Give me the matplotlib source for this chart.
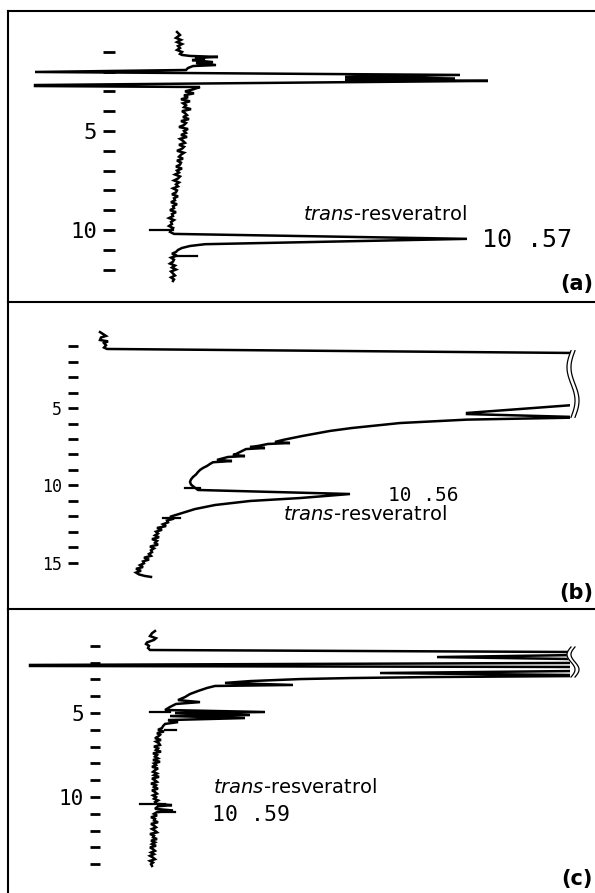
import matplotlib
matplotlib.use("Agg")

import numpy as np
import matplotlib.pyplot as plt
from matplotlib.patches import Rectangle

# detector signal (arbitrary units) vs retention time (min); pen full scale
FULL_SCALE = 570

# ---- panel (a)
TIME_A = [
    0.00, 0.15, 0.30, 0.40, 0.51, 0.61, 0.71, 0.81, 0.91, 1.01,
    1.11, 1.16, 1.21, 1.26, 1.31, 1.36, 1.42, 1.52, 1.57, 1.67,
    1.72, 1.82, 1.92, 2.02, 2.17, 2.27, 2.35, 2.42, 2.47, 2.68,
    2.73, 2.78,
    2.9, 3.0, 3.1, 3.2, 3.3, 3.4, 3.5, 3.6, 3.7, 3.8,
    3.9, 4.0, 4.1, 4.2, 4.3, 4.4, 4.5, 4.6, 4.7, 4.8,
    4.9, 5.0, 5.1, 5.2, 5.3, 5.4, 5.5, 5.6, 5.7, 5.8,
    5.9, 6.0, 6.1, 6.2, 6.3, 6.4, 6.5, 6.6, 6.7, 6.8,
    6.9, 7.0, 7.1, 7.2, 7.3, 7.4, 7.5, 7.6, 7.7, 7.8,
    7.9, 8.0, 8.1, 8.2, 8.3, 8.4, 8.5, 8.6, 8.7, 8.8,
    8.9, 9.0, 9.1, 9.2, 9.3, 9.4, 9.5, 9.6, 9.7, 9.8,
    9.9, 10.0, 10.1, 10.2,
    10.45, 10.72, 10.81, 10.91, 11.01, 11.11,
    11.2, 11.3, 11.4, 11.5, 11.6, 11.7, 11.8, 11.9, 12.0, 12.1,
    12.2, 12.3, 12.4, 12.5, 12.58,
]
SIGNAL_A = [
    177, 180, 176, 181, 177, 182, 178, 180, 177, 182,
    180, 182, 190, 218, 195, 205, 192, 213, 196, 216,
    193, 188, 186, 35, 460, 345, 455, 345, 488, 35,
    35, 200,
    193, 185, 194, 184, 188, 181, 190, 183, 186, 184,
    191, 182, 185, 187, 183, 189, 181, 186, 184, 179,
    188, 184, 186, 181, 187, 180, 183, 185, 179, 184,
    182, 177, 184, 181, 179, 183, 177, 181, 180, 176,
    182, 177, 179, 175, 180, 178, 174, 179, 176, 178,
    173, 177, 176, 172, 178, 174, 175, 171, 177, 173,
    174, 170, 176, 172, 173, 169, 174, 171, 172, 169,
    173, 171, 170, 174,
    467, 205, 190, 182, 178, 176,
    172, 177, 171, 174, 173, 170, 175, 172, 176, 171,
    173, 175, 171, 174, 173,
]
MARK_T_A = [10.0, 11.31]
MARK_LO_A = [150, 177]
MARK_HI_A = [173, 197]

# ---- panel (b)
TIME_B = [
    0.10, 0.35, 0.45, 0.61, 0.70, 0.81, 0.95, 1.10, 1.19, 1.45,
    4.80, 5.32, 5.39, 5.58, 5.62, 5.75, 5.97, 6.29, 6.48, 6.81,
    7.06, 7.19, 7.26, 7.32, 7.45, 7.52, 7.58, 7.65, 7.84, 7.97,
    8.03, 8.10, 8.16, 8.35, 8.42, 8.50, 8.61, 8.74, 8.87, 9.00,
    9.13, 9.29, 9.45, 9.61, 9.77, 9.94, 10.10, 10.29, 10.55, 10.81,
    11.00, 11.26, 11.52, 11.70, 11.78,
    11.90, 12.02, 12.14, 12.26, 12.38, 12.50, 12.62, 12.74, 12.86, 12.98,
    13.10, 13.22, 13.34, 13.46, 13.58, 13.70, 13.82, 13.94, 14.06, 14.18,
    14.30, 14.42, 14.54, 14.66, 14.78, 14.90, 15.02, 15.14, 15.26, 15.38,
    15.50, 15.62, 15.74, 15.84, 15.90,
]
SIGNAL_B = [
    100, 106, 101, 100, 108, 104, 106, 104, 107, 575,
    575, 467, 467, 575, 575, 467, 400, 352, 330, 302,
    283, 275, 290, 268, 258, 250, 265, 246, 240, 236,
    233, 245, 228, 217, 232, 213, 210, 207, 203, 200,
    198, 196, 193, 191, 190, 191, 194, 198, 350, 300,
    250, 215, 195, 186, 182,
    176, 170, 174, 167, 168, 163, 166, 157, 162, 156,
    158, 155, 159, 152, 157, 155, 158, 150, 154, 151,
    152, 149, 151, 144, 149, 143, 144, 140, 143, 136,
    141, 136, 139, 145, 151,
]
MARK_T_B = [10.16, 12.10]
MARK_LO_B = [185, 163]
MARK_HI_B = [200, 180]
BREAK_B = (1.3, 5.6)

# ---- panel (c)
TIME_C = [
    0.12, 0.25, 0.42, 0.55, 0.65, 0.80, 0.89, 1.00, 1.13, 1.25,
    1.37, 1.55, 1.67, 1.79, 2.02, 2.14, 2.20, 2.26, 2.50, 2.62,
    2.74, 2.80, 2.86, 2.92, 2.98, 3.10, 3.21, 3.33, 3.39, 3.51,
    3.69, 3.87, 4.05, 4.23, 4.35, 4.46, 4.64, 4.82, 4.94, 5.00,
    5.12, 5.18, 5.30, 5.42, 5.54, 5.65, 5.78, 5.89,
    6.0, 6.1, 6.2, 6.3, 6.4, 6.5, 6.6, 6.7, 6.8, 6.9,
    7.0, 7.1, 7.2, 7.3, 7.4, 7.5, 7.6, 7.7, 7.8, 7.9,
    8.0, 8.1, 8.2, 8.3, 8.4, 8.5, 8.6, 8.7, 8.8, 8.9,
    9.0, 9.1, 9.2, 9.3, 9.4, 9.5, 9.6, 9.7, 9.8, 9.9,
    10.0, 10.1, 10.2, 10.3, 10.4, 10.48, 10.55, 10.7, 10.8, 10.9,
    11.0, 11.1, 11.2, 11.3, 11.4, 11.5, 11.6, 11.7, 11.8, 11.9,
    12.0, 12.1, 12.2, 12.3, 12.4, 12.5, 12.6, 12.7, 12.8, 12.9,
    13.0, 13.1, 13.2, 13.3, 13.4, 13.5, 13.6, 13.7, 13.8, 13.9,
    14.0, 14.1,
]
SIGNAL_C = [
    155, 152, 150, 156, 154, 147, 146, 149, 148, 150,
    575, 575, 437, 575, 575, 30, 30, 575, 575, 380,
    575, 575, 430, 350, 300, 250, 225, 293, 215, 207,
    198, 190, 185, 178, 200, 176, 170, 165, 265, 175,
    250, 170, 245, 168, 178, 165, 163, 162,
    158, 164, 157, 160, 158, 155, 161, 156, 159, 160,
    154, 158, 156, 161, 153, 157, 155, 158, 153, 160,
    154, 156, 152, 158, 155, 153, 157, 154, 159, 152,
    155, 157, 151, 156, 154, 158, 152, 155, 157, 153,
    156, 154, 158, 155, 156, 172, 158, 155, 173, 157,
    154, 157, 151, 155, 154, 158, 151, 154, 156, 152,
    155, 157, 150, 154, 153, 157, 151, 155, 152, 156,
    150, 153, 155, 151, 154, 150, 153, 155, 150, 153,
    151, 152,
]
MARK_T_C = [4.95, 6.0, 10.4, 10.9]
MARK_LO_C = [150, 165, 140, 158]
MARK_HI_C = [170, 176, 165, 175]
BREAK_C = (1.07, 2.86)

PANELS = [
    dict(tag="(a)", t=TIME_A, s=SIGNAL_A, mt=MARK_T_A, ml=MARK_LO_A, mh=MARK_HI_A,
         brk=None, ylim=(13.64, -1.06), ticks=list(range(1, 13)),
         rect=[0.01345, 0.66181, 0.98655, 0.32587], tick_x=0.172, tick_fs=16, tick_len=8.6,
         name_xy=(303, 9.24), rt="10 .57", rt_xy=(482, 10.5), rt_fs=18, tag_t=12.73),
    dict(tag="(b)", t=TIME_B, s=SIGNAL_B, mt=MARK_T_B, ml=MARK_LO_B, mh=MARK_HI_B,
         brk=BREAK_B, ylim=(17.97, -1.84), ticks=list(range(1, 16)),
         rect=[0.01345, 0.31803, 0.98655, 0.34378], tick_x=0.1107, tick_fs=12, tick_len=7.2,
         name_xy=(283, 11.85), rt="10 .56", rt_xy=(388, 10.66), rt_fs=14, tag_t=16.94),
    dict(tag="(c)", t=TIME_C, s=SIGNAL_C, mt=MARK_T_C, ml=MARK_LO_C, mh=MARK_HI_C,
         brk=BREAK_C, ylim=(15.71, -1.19), ticks=list(range(1, 15)),
         rect=[0.01345, 0.0, 0.98655, 0.31803], tick_x=0.148, tick_fs=15, tick_len=7.2,
         name_xy=(213, 9.43), rt="10 .59", rt_xy=(212, 11.07), rt_fs=15.5, tag_t=14.85),
]

fig = plt.figure(figsize=(5.95, 8.93), dpi=100)

for i, p in enumerate(PANELS):
    ax = fig.add_axes(p["rect"])
    ax.set_xlim(8, 595)
    ax.set_ylim(*p["ylim"])
    ax.set_xticks([])
    ax.set_yticks([])
    ax.spines["right"].set_visible(False)
    ax.spines["bottom"].set_visible(False)
    for side in ("left", "top"):
        ax.spines[side].set_linewidth(1.5)

    # the recorder pen stops at full scale
    clip = Rectangle((0, -5), FULL_SCALE, 30, transform=ax.transData)
    line, = ax.plot(p["s"], p["t"], color="black", lw=1.8, solid_joinstyle="miter")
    line.set_clip_path(clip)

    for t, lo, hi in zip(p["mt"], p["ml"], p["mh"]):
        ax.plot([lo, hi], [t, t], color="black", lw=1.6)

    if p["brk"] is not None:
        t0, t1 = p["brk"]
        tt = np.linspace(t0, t1, 80)
        wig = 4 * np.sin(2 * np.pi * (tt - t0) / (t1 - t0))
        ax.fill_betweenx(tt, FULL_SCALE + 1 - wig, FULL_SCALE + 5 - wig, color="white", zorder=3)
        for dx in (1, 5):
            ax.plot(FULL_SCALE + dx - wig, tt, color="black", lw=0.9, zorder=4)

    sec = ax.secondary_yaxis(p["tick_x"])
    for s in sec.spines.values():
        s.set_visible(False)
    sec.set_yticks(p["ticks"], [str(v) if v % 5 == 0 else "" for v in p["ticks"]])
    sec.tick_params(direction="inout", length=p["tick_len"], width=2.0, pad=4.3,
                    labelsize=p["tick_fs"])
    for lab in sec.get_yticklabels():
        lab.set_fontfamily("DejaVu Sans Mono")

    ax.text(*p["name_xy"], r"$\mathit{trans}$-resveratrol", fontsize=14,
            family="DejaVu Sans", ha="left", va="center")
    ax.text(*p["rt_xy"], p["rt"], fontsize=p["rt_fs"], family="DejaVu Sans Mono",
            ha="left", va="center")
    ax.text(593, p["tag_t"], p["tag"], fontsize=15, family="DejaVu Sans",
            fontweight="bold", ha="right", va="center")

fig.savefig("out.png", dpi=100)
